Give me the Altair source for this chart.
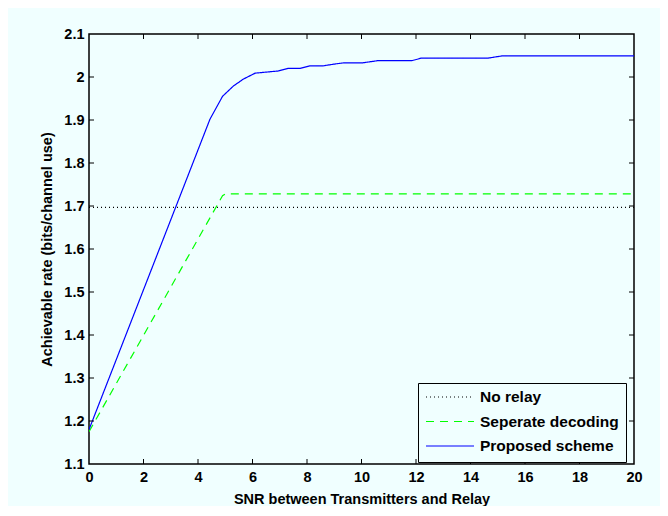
import altair as alt
import pandas as pd

# ---- data ----
series_names = ["No relay", "Seperate decoding", "Proposed scheme"]

snr_norelay = [0, 20]
rate_norelay = [1.697, 1.697]

snr_sep = [0, 4.9, 5.0, 20]
rate_sep = [1.175, 1.724, 1.728, 1.728]

snr_prop = [0, 4.44, 4.9, 5.3, 5.66, 6.1, 6.95, 7.3, 7.75, 8.1, 8.6, 9.0, 9.35,
            10.05, 10.6, 11.85, 12.2, 14.65, 15.15, 20]
rate_prop = [1.18, 1.902, 1.955, 1.979, 1.995, 2.009, 2.014, 2.02, 2.02, 2.026,
             2.026, 2.03, 2.033, 2.033, 2.038, 2.038, 2.044, 2.044, 2.049, 2.049]

x_ticks = [0, 2, 4, 6, 8, 10, 12, 14, 16, 18, 20]
y_ticks = [1.1, 1.2, 1.3, 1.4, 1.5, 1.6, 1.7, 1.8, 1.9, 2.0, 2.1]

rows = []
for name, xs, ys in [
    (series_names[0], snr_norelay, rate_norelay),
    (series_names[1], snr_sep, rate_sep),
    (series_names[2], snr_prop, rate_prop),
]:
    for i, (a, b) in enumerate(zip(xs, ys)):
        rows.append({"series": name, "snr": a, "rate": b, "idx": i})
df = pd.DataFrame(rows)

xt = pd.DataFrame({"v": x_ticks[1:-1]})
yt = pd.DataFrame({"v": y_ticks[1:-1]})

W, H = 545, 430
FONT = "Liberation Sans"
BG = "#f0ffff"

xscale = alt.Scale(domain=[0, 20], nice=False, zero=False)
yscale = alt.Scale(domain=[1.1, 2.1], nice=False, zero=False)

legend_kw = dict(title=None, orient="none", legendX=329, legendY=349,
                 symbolType="stroke", symbolSize=2304, symbolStrokeWidth=1.2,
                 clipHeight=14, rowPadding=8.5, padding=7, labelOffset=5,
                 labelFont=FONT, labelFontSize=15.5, labelFontWeight="bold",
                 labelColor="black", strokeColor="black", fillColor=BG)

lines = alt.Chart(df).mark_line(strokeWidth=1.2, clip=True).encode(
    x=alt.X("snr:Q", scale=xscale,
            axis=alt.Axis(values=x_ticks, title="SNR between Transmitters and Relay",
                          grid=False, domain=False, ticks=False, tickSize=0,
                          labelPadding=6, labelFont=FONT, labelFontSize=14.5,
                          labelFontWeight="bold", labelColor="black",
                          titleFont=FONT, titleFontSize=14.5, titleFontWeight="bold",
                          titleColor="black", titleX=W / 2, titleY=35,
                          titleBaseline="middle", labelFlush=False)),
    y=alt.Y("rate:Q", scale=yscale,
            axis=alt.Axis(values=y_ticks, format=".1~f",
                          title="Achievable rate (bits/channel use)",
                          grid=False, domain=False, ticks=False, tickSize=0,
                          labelPadding=5, labelFont=FONT, labelFontSize=14.5,
                          labelFontWeight="bold", labelColor="black",
                          titleFont=FONT, titleFontSize=14.5, titleFontWeight="bold",
                          titleColor="black", titleX=-42, titleY=H / 2,
                          titleAngle=270, titleBaseline="middle", titleAlign="center",
                          labelFlush=False)),
    color=alt.Color("series:N",
                    scale=alt.Scale(domain=series_names,
                                    range=["#000000", "#00ff00", "#0000ff"]),
                    legend=alt.Legend(**legend_kw)),
    strokeDash=alt.StrokeDash("series:N",
                              scale=alt.Scale(domain=series_names,
                                              range=[[1, 3], [8, 6], [1, 0]]),
                              legend=alt.Legend(**legend_kw)),
    order="idx:Q",
)

tick_x_bottom = alt.Chart(xt).mark_rule(color="black", strokeWidth=1).encode(
    x=alt.X("v:Q", scale=xscale), y=alt.value(H - 5), y2=alt.value(H))
tick_x_top = alt.Chart(xt).mark_rule(color="black", strokeWidth=1).encode(
    x=alt.X("v:Q", scale=xscale), y=alt.value(0), y2=alt.value(5))
tick_y_left = alt.Chart(yt).mark_rule(color="black", strokeWidth=1).encode(
    y=alt.Y("v:Q", scale=yscale), x=alt.value(0), x2=alt.value(5))
tick_y_right = alt.Chart(yt).mark_rule(color="black", strokeWidth=1).encode(
    y=alt.Y("v:Q", scale=yscale), x=alt.value(W - 5), x2=alt.value(W))

chart = alt.layer(lines, tick_x_bottom, tick_x_top, tick_y_left, tick_y_right).properties(
    width=W, height=H,
    background=BG,
    autosize=alt.AutoSizeParams(type="none"),
    padding={"left": 81, "top": 26, "right": 26, "bottom": 42},
).configure_view(stroke="black", strokeWidth=1.5, fill=BG)

chart.save("out.html", embed_options={"renderer": "svg", "actions": False})
